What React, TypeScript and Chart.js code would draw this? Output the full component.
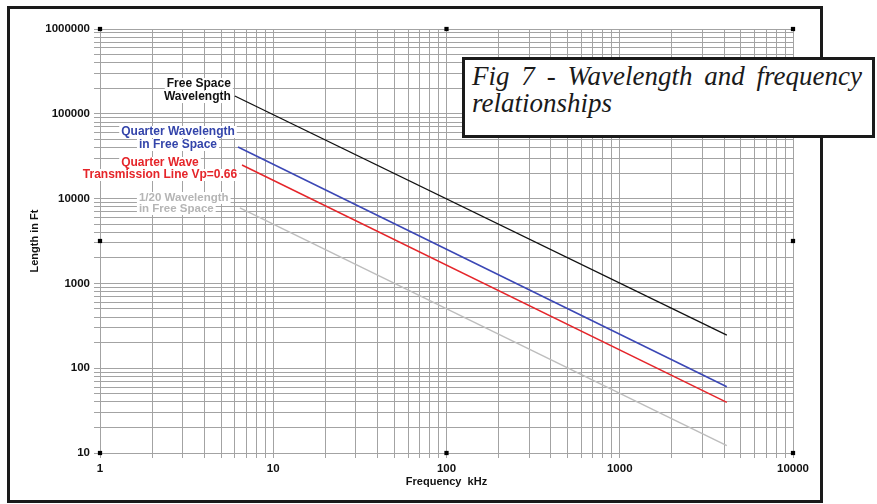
import React, { useEffect, useRef } from "react";
import { Chart, registerables } from "chart.js";
Chart.register(...registerables);

// ---- data ----
const xDecades = [1, 10, 100, 1000];
const yDecades = [10, 100, 1000, 10000, 100000];
const minorSteps = [1, 2, 3, 4, 5, 6, 7, 8, 9];
const xMax = 10000;
const yMax = 1000000;

const seriesLabelLines = [
  ["Free Space", "Wavelength"],
  ["Quarter Wavelength", "in Free Space"],
  ["Quarter Wave", "Transmission Line Vp=0.66"],
  ["1/20 Wavelength", "in Free Space"],
];

const freeSpaceX = [6.0, 4150];
const freeSpaceY = [162000, 246];
const quarterX = [6.26, 4150];
const quarterY = [40600, 60.5];
const tlineX = [6.6, 4150];
const tlineY = [24900, 39.6];
const twentiethX = [6.42, 4150];
const twentiethY = [7750, 12.2];

const markerX = [1, 100, 10000, 1, 10000, 1, 100, 10000];
const markerY = [1000000, 1000000, 1000000, 3162, 3162, 10, 10, 10];

const xTitle = "Frequency  kHz";
const yTitle = "Length in Ft";
const figTitle = "Fig 7 - Wavelength and frequency relationships";

// ---- styles ----
const seriesColors = ["#111111", "#3b47b5", "#e5252a", "#bdbdbd"];
const seriesWidths = [1.3, 1.5, 1.5, 1.4];
const labelLayout = [
  { color: "#111111", align: "right", dx: -4, dy: [-12, 1], size: 12 },
  { color: "#3344aa", align: "center", dx: -60, dy: [-15, -2], size: 12 },
  { color: "#e5252a", align: "center", dx: -82, dy: [-2, 10], size: 12 },
  { color: "#b5b5b5", align: "left", dx: -101, dy: [-10, 1], size: 11.5 },
];
const gridColor = "#a3a3a3";
const fontFamily = '"Liberation Sans", Arial, sans-serif';

const isPow10 = (v: number) => {
  const l = Math.log10(v);
  return Math.abs(l - Math.round(l)) < 1e-6;
};
const buildTicks = (decades: number[], max: number) => {
  const out: number[] = [];
  decades.forEach((d) => minorSteps.forEach((m) => out.push(d * m)));
  out.push(max);
  return out;
};
const xTickValues = buildTicks(xDecades, xMax);
const yTickValues = buildTicks(yDecades, yMax);

const toPts = (xs: number[], ys: number[]) => xs.map((x, i) => ({ x, y: ys[i] }));

const lineLabelPlugin = {
  id: "lineLabels",
  afterDatasetsDraw(chart: any) {
    const ctx = chart.ctx;
    labelLayout.forEach((lay, i) => {
      const meta = chart.getDatasetMeta(i);
      const p = meta.data[0];
      if (!p) return;
      ctx.save();
      ctx.font = `bold ${lay.size}px ${fontFamily}`;
      ctx.textBaseline = "middle";
      ctx.textAlign = "left";
      seriesLabelLines[i].forEach((t, j) => {
        const w = ctx.measureText(t).width;
        const y = p.y + lay.dy[j];
        const ax = p.x + lay.dx;
        const x0 = lay.align === "right" ? ax - w : lay.align === "center" ? ax - w / 2 : ax;
        ctx.fillStyle = "#ffffff";
        ctx.fillRect(x0 - 2, y - 6, w + 4, 12);
        ctx.fillStyle = lay.color;
        ctx.fillText(t, x0, y);
      });
      ctx.restore();
    });
  },
};

export default function App() {
  const ref = useRef<HTMLCanvasElement | null>(null);

  useEffect(() => {
    if (!ref.current) return;
    const tickFont = { family: fontFamily, size: 11.5, weight: "bold" as const };
    const titleFont = { family: fontFamily, size: 11, weight: "bold" as const };
    const series = [
      toPts(freeSpaceX, freeSpaceY),
      toPts(quarterX, quarterY),
      toPts(tlineX, tlineY),
      toPts(twentiethX, twentiethY),
    ];
    const chart = new Chart(ref.current, {
      type: "scatter",
      data: {
        datasets: [
          ...series.map((d, i) => ({
            data: d,
            showLine: true,
            borderColor: seriesColors[i],
            borderWidth: seriesWidths[i],
            pointRadius: 0,
            tension: 0,
          })),
          {
            data: toPts(markerX, markerY),
            showLine: false,
            pointStyle: "rect",
            pointRadius: 3,
            backgroundColor: "#000",
            borderColor: "#000",
            borderWidth: 0,
            clip: false as any,
          },
        ],
      },
      options: {
        responsive: false,
        animation: false,
        events: [],
        layout: { padding: { left: 0, top: 29, right: 84, bottom: 0 } },
        plugins: {
          legend: { display: false },
          tooltip: { enabled: false },
          title: { display: false },
        },
        scales: {
          x: {
            type: "logarithmic",
            min: 1,
            max: xMax,
            position: "bottom",
            afterBuildTicks: (s: any) => {
              s.ticks = xTickValues.map((v) => ({ value: v }));
            },
            afterFit: (s: any) => {
              s.height = 51;
            },
            ticks: {
              autoSkip: false,
              maxRotation: 0,
              minRotation: 0,
              padding: 4,
              color: "#111",
              font: tickFont,
              callback: (v: any) => (isPow10(Number(v)) ? String(v) : ""),
            },
            grid: { color: gridColor, lineWidth: 1, tickLength: 5, tickColor: gridColor },
            border: { color: gridColor, width: 1 },
            title: {
              display: true,
              text: xTitle,
              color: "#111",
              font: titleFont,
              padding: { top: 0, bottom: 15 },
            },
          },
          y: {
            type: "logarithmic",
            min: 10,
            max: yMax,
            position: "left",
            afterBuildTicks: (s: any) => {
              s.ticks = yTickValues.map((v) => ({ value: v }));
            },
            afterFit: (s: any) => {
              s.width = 100;
            },
            ticks: {
              autoSkip: false,
              padding: 4,
              color: "#111",
              font: tickFont,
              callback: (v: any) => (isPow10(Number(v)) ? String(v) : ""),
            },
            grid: {
              color: gridColor,
              lineWidth: 1,
              tickLength: 6,
              tickColor: gridColor,
            },
            border: { color: gridColor, width: 1 },
            title: {
              display: true,
              text: yTitle,
              color: "#111",
              font: titleFont,
              padding: { top: 28, bottom: 0 },
            },
          },
        },
      },
      plugins: [lineLabelPlugin],
    } as any);
    return () => chart.destroy();
  }, []);

  return (
    <div style={{ position: "absolute", left: 0, top: 0, width: 877, height: 504, background: "#fff" }}>
      <canvas ref={ref} width={877} height={504} style={{ display: "block", width: 877, height: 504 }} />
      <div
        style={{
          position: "absolute",
          left: 7,
          top: 6,
          width: 816,
          height: 497,
          border: "3px solid #1a1a1a",
          boxSizing: "border-box",
          pointerEvents: "none",
        }}
      />
      <div
        style={{
          position: "absolute",
          left: 462,
          top: 57,
          width: 413,
          height: 81,
          border: "3px solid #1a1a1a",
          boxSizing: "border-box",
          background: "#fff",
          padding: "0 10px 0 7px",
        }}
      >
        <div
          style={{
            marginTop: 3,
            fontFamily: '"Liberation Serif", "Times New Roman", serif',
            fontStyle: "italic",
            fontSize: 27,
            lineHeight: "27px",
            textAlign: "justify",
            color: "#1a1a1a",
          }}
        >
          {figTitle}
        </div>
      </div>
    </div>
  );
}
